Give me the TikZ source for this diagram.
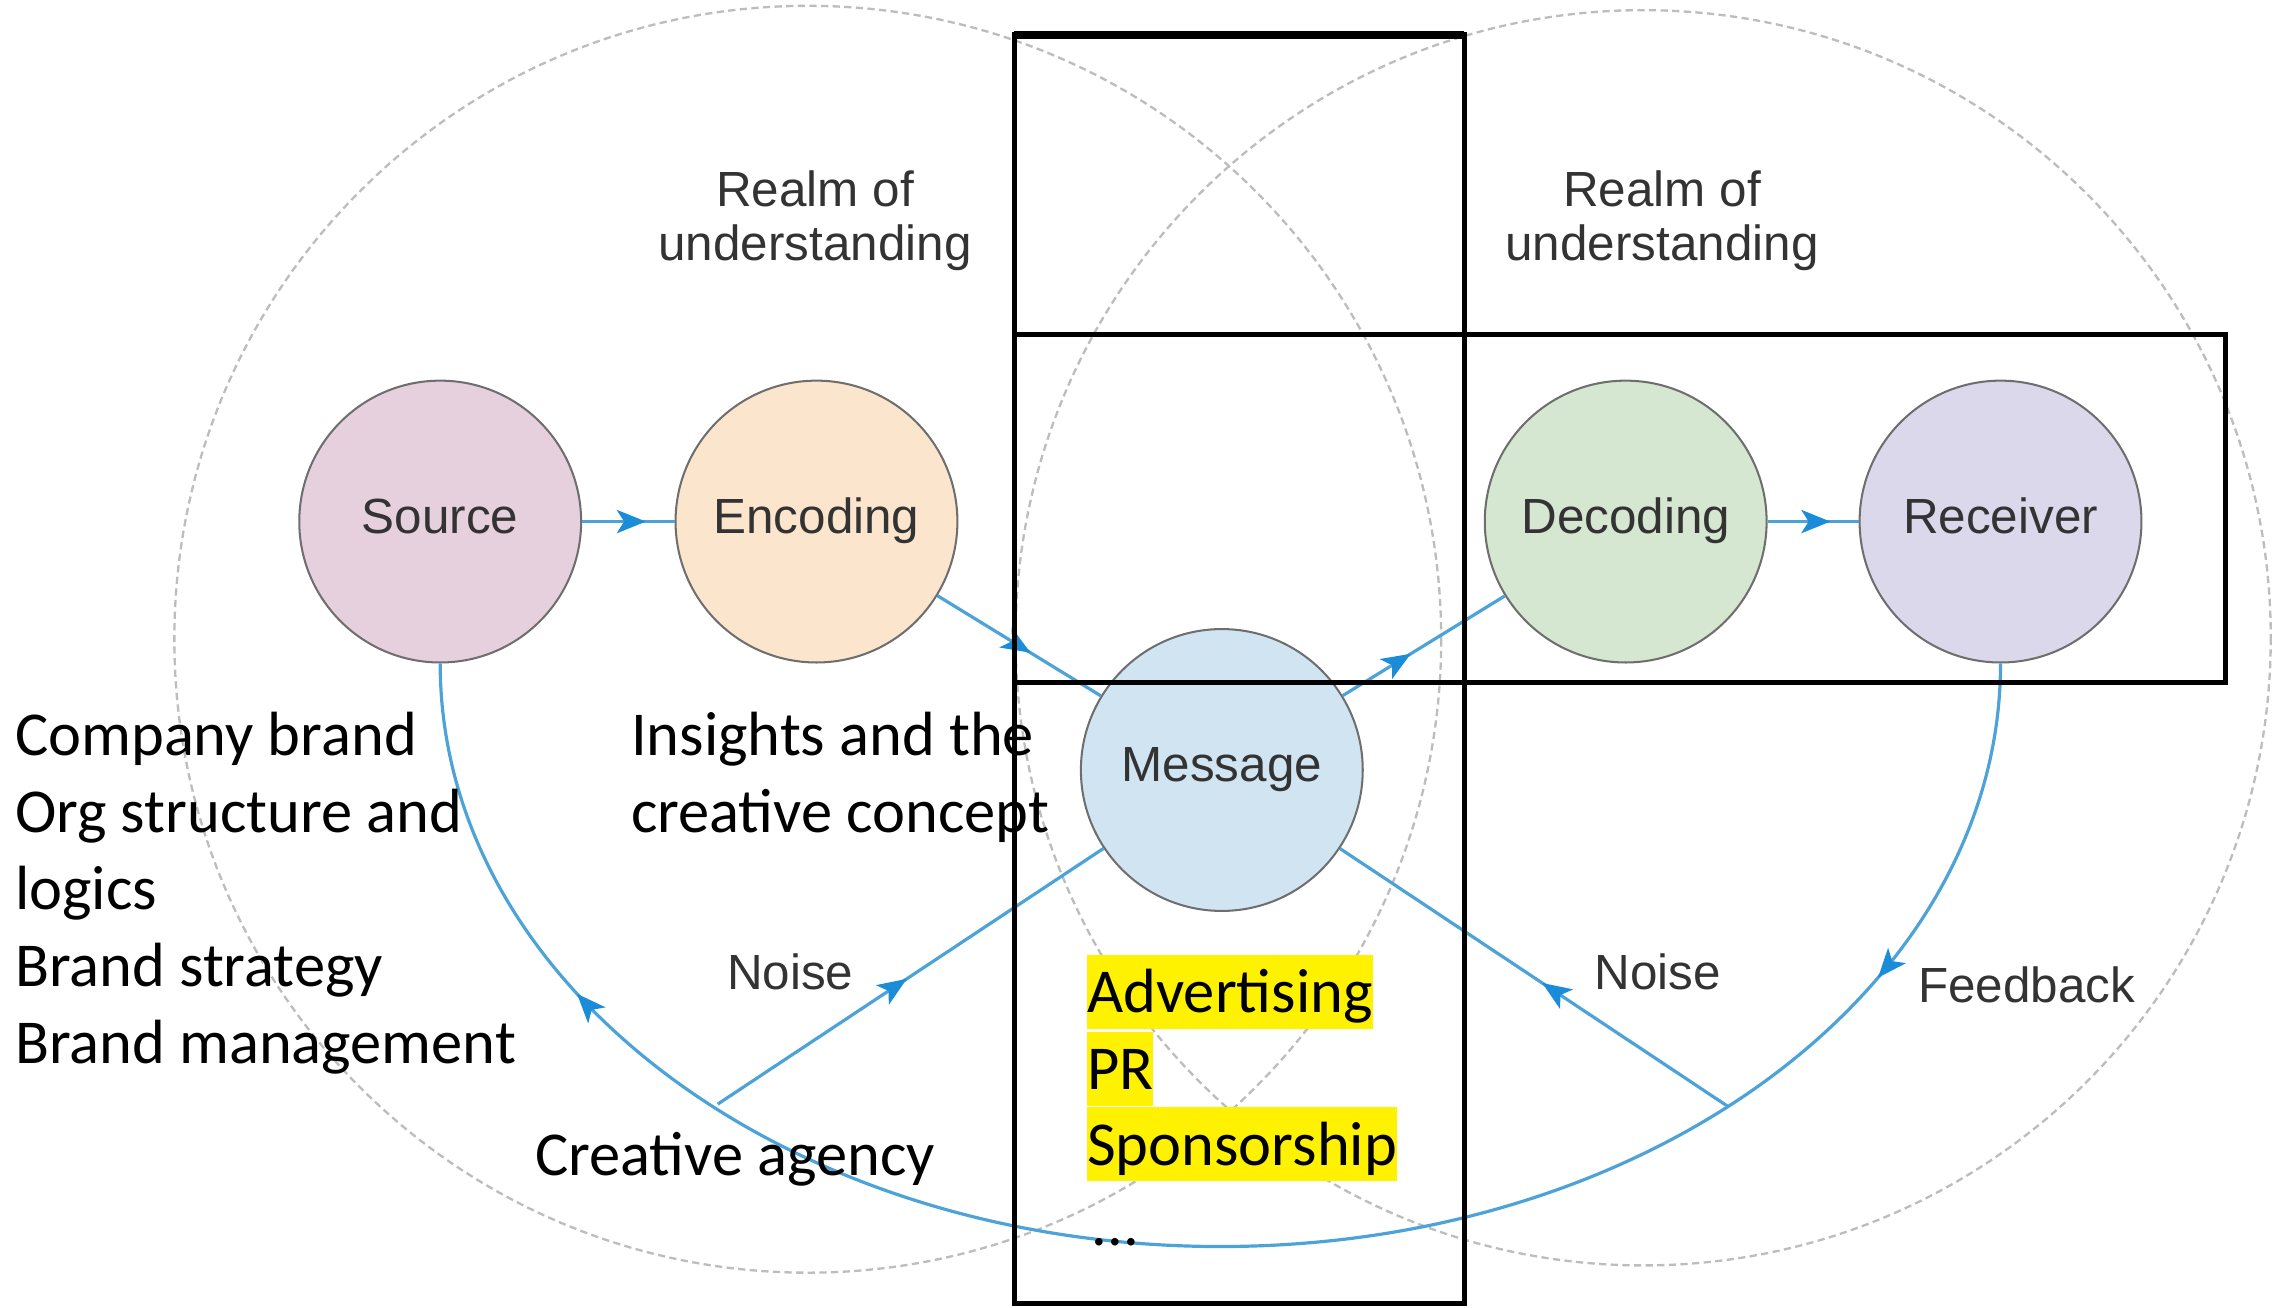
\documentclass[tikz,border=0pt]{standalone}
\usepackage{fontspec}
\setmainfont{Carlito}
\newfontfamily\drawiofont{Liberation Sans}
\usetikzlibrary{arrows.meta,decorations.markings}

\definecolor{srcfill}{HTML}{E6D0DE}
\definecolor{encfill}{HTML}{FCE5CD}
\definecolor{decfill}{HTML}{D5E6D1}
\definecolor{rcvfill}{HTML}{DAD8EA}
\definecolor{msgfill}{HTML}{D0E4F2}
\definecolor{stagegray}{HTML}{6E6E6E}
\definecolor{labelgray}{HTML}{333333}
\definecolor{flowblue}{HTML}{4DA3D8}
\definecolor{flowtip}{HTML}{1A8CD8}
\definecolor{realmgray}{HTML}{BDBDBD}

\begin{document}
\begin{tikzpicture}[x=0.5pt,y=-0.5pt,
    >={Stealth[length=10pt,width=8pt,inset=2.5pt,color=flowtip]},
    stage/.style={circle,draw=stagegray,line width=0.7pt,minimum size=97pt,inner sep=0pt,
      text height=11pt,text depth=3pt,
      font=\drawiofont\fontsize{17}{18.5}\selectfont,text=labelgray},
    flow/.style={draw=flowblue,line width=1.1pt},
    midarrow/.style={postaction={decorate},decoration={markings,mark=at position #1 with {\arrow{>}}}},
    realm/.style={draw=realmgray,line width=0.8pt,dash pattern=on 2.5pt off 1.5pt},
    tag/.style={font=\drawiofont\fontsize{17}{18.5}\selectfont,text=labelgray,anchor=base,align=center,inner sep=0pt},
    note/.style={font=\fontsize{21.5}{26.5}\selectfont,anchor=base west,align=left,inner sep=0pt},
    channel/.style={note,fill=yellow,text height=20pt,text depth=5.5pt},
    frame/.style={draw=black,line width=1.7pt}]

  \useasboundingbox (0,0) rectangle (1568,900);

  % the two realms of understanding
  \draw[realm] (556,440) circle[radius=436];
  \draw[realm] (1131,439) circle[radius=432];
  \node[tag] (realmL) at (561,179) {Realm of\\understanding};
  \node[tag] (realmR) at (1144,179) {Realm of\\understanding};

  \node[stage,fill=srcfill] (src) at (303,359) {Source};
  \node[stage,fill=encfill] (enc) at (562,359) {Encoding};
  \node[stage,fill=msgfill] (msg) at (841,530) {Message};
  \node[stage,fill=decfill] (dec) at (1119,359) {Decoding};
  \node[stage,fill=rcvfill] (rcv) at (1377,359) {Receiver};

  \coordinate (loop) at (840,858);
  \coordinate (nl) at (494,760);
  \coordinate (nr) at (1190,762);

  \draw[flow,midarrow=0.69] (src) -- (enc);
  \draw[flow,midarrow=0.57] (enc) -- (msg);
  \draw[flow,midarrow=0.42] (msg) -- (dec);
  \draw[flow,midarrow=0.69] (dec) -- (rcv);
  \draw[flow,postaction={decorate},
    decoration={markings,mark=at position 0.16 with {\arrow{>}},mark=at position 0.83 with {\arrow{>}}}]
    (rcv.south) .. controls +(0,222) and +(297,0) .. (loop)
    .. controls +(-297,0) and +(0,222) .. (src.south);
  \draw[flow,midarrow=0.49] (nl) -- (msg);
  \draw[flow,midarrow=0.48] (nr) -- (msg);

  \node[tag] (noiseL) at (544,681) {Noise};
  \node[tag] (noiseR) at (1141,681) {Noise};
  \node[tag] (fback) at (1395,690) {Feedback};

  \node[note] (company) at (10,732) {Company brand\\Org structure and\\logics\\Brand strategy\\Brand management};
  \node[note] (insight) at (434,573) {Insights and the\\creative concept};
  \node[note] (agency) at (368,809) {Creative agency};
  \node[channel] (adv) at (748,697) {Advertising};
  \node[channel] (pr) at (748,750) {PR};
  \node[channel] (spon) at (748,802) {Sponsorship};
  \node[note] (more) at (751,857) {...};

  \draw[frame] (698,24) rectangle (1008,897);
  \draw[frame] (698,230) rectangle (1532,470);
  \draw[frame,line width=3pt] (698,24) -- (1008,24);
\end{tikzpicture}
\end{document}
